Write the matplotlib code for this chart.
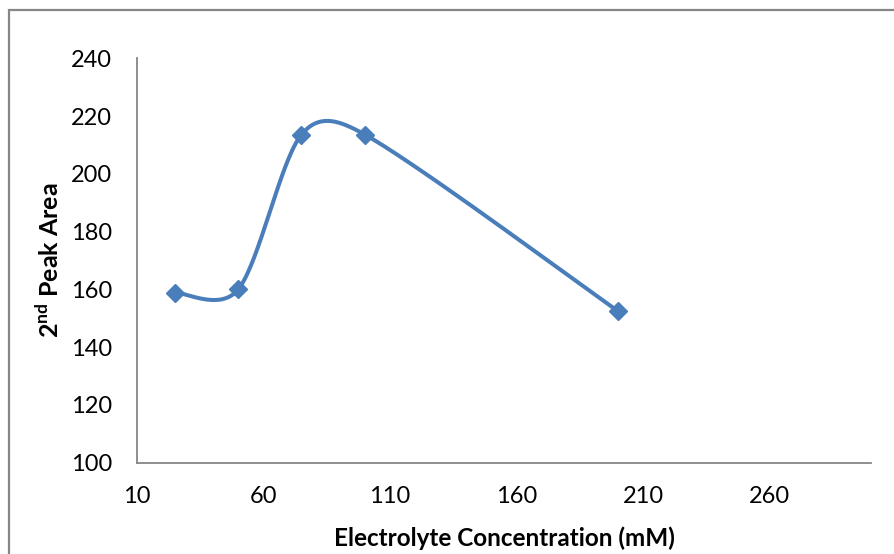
#!/usr/bin/env python3
"""2nd peak area vs. electrolyte concentration, Excel-style smoothed line."""

import numpy as np
import matplotlib
matplotlib.use("Agg")
import matplotlib.pyplot as plt
from matplotlib.patches import Rectangle

concentration = [25, 50, 75, 100, 200]          # mM
peak_area = [158.9, 160.0, 213.6, 213.6, 152.5]

x_ticks = [10, 60, 110, 160, 210, 260]
y_ticks = [100, 120, 140, 160, 180, 200, 220, 240]

BLUE = "#4A7EBB"
GREY = "#868686"

plt.rcParams["font.family"] = ["Lato", "DejaVu Sans"]
plt.rcParams["mathtext.fontset"] = "custom"
plt.rcParams["mathtext.rm"] = "Lato"
plt.rcParams["mathtext.bf"] = "Lato:bold"


def smooth_curve(ax, xs, ys, n=60):
    """Bezier smoothing like Excel's: Catmull-Rom handles, clamped to half
    the segment length, worked out in screen pixels."""
    pts = ax.transData.transform(np.column_stack([xs, ys]))
    p = np.vstack([pts[0], pts, pts[-1]])
    t = np.linspace(0, 1, n)[:, None]
    out = []
    for i in range(1, len(p) - 2):
        p0, p1, p2, p3 = p[i - 1], p[i], p[i + 1], p[i + 2]
        seg = np.linalg.norm(p2 - p1)
        h1 = (p2 - p0) / 6
        h2 = (p3 - p1) / 6
        for h in (h1, h2):
            ln = np.linalg.norm(h)
            if ln > seg * 0.45:
                h *= (seg * 0.45) / ln
        c1, c2 = p1 + h1, p2 - h2
        b = ((1 - t) ** 3) * p1 + 3 * ((1 - t) ** 2) * t * c1 \
            + 3 * (1 - t) * t ** 2 * c2 + t ** 3 * p2
        out.append(b if i == 1 else b[1:])
    curve = ax.transData.inverted().transform(np.vstack(out))
    return curve[:, 0], curve[:, 1]


def main() -> None:
    fig = plt.figure(figsize=(8.94, 5.54), dpi=100)
    ax = fig.add_axes([0.1532, 0.1648, 0.8211, 0.7300])

    # chart-area border, cut off at the right and bottom like the original
    fig.patches.append(Rectangle((8.5 / 894, -0.05), 1.0, 1 - 9.5 / 554 + 0.05,
                                 transform=fig.transFigure, fill=False,
                                 edgecolor=GREY, linewidth=1.6))

    ax.set_xlim(10, 300)
    ax.set_ylim(100, 240)
    ax.set_xticks(x_ticks)
    ax.set_yticks(y_ticks)
    ax.tick_params(length=0, labelsize=17, colors="black")
    ax.tick_params(axis="x", pad=17)
    ax.tick_params(axis="y", pad=18)
    for side in ("top", "right"):
        ax.spines[side].set_visible(False)
    for side in ("left", "bottom"):
        ax.spines[side].set_color(GREY)
        ax.spines[side].set_linewidth(1.3)

    sx, sy = smooth_curve(ax, concentration, peak_area)
    ax.plot(sx, sy, color=BLUE, linewidth=2.9, solid_capstyle="round")
    ax.plot(concentration, peak_area, linestyle="none", marker="D",
            markersize=9, color=BLUE)

    ax.set_xlabel("Electrolyte Concentration (mM)", fontsize=17.5,
                  fontweight="bold", labelpad=14)
    ax.set_ylabel(r"2$^{\mathbf{nd}}$ Peak Area", fontsize=18,
                  fontweight="bold", labelpad=5.5)

    fig.savefig("out.png", dpi=100)


if __name__ == "__main__":
    main()
